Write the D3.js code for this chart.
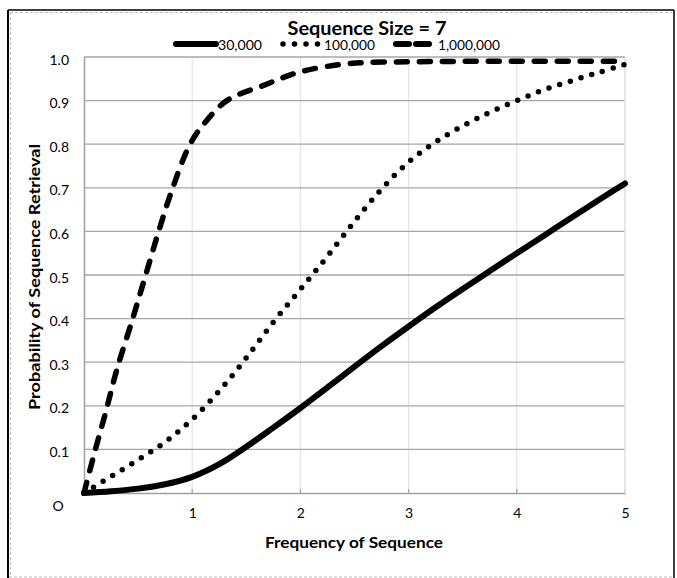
<!DOCTYPE html>
<html>
<head>
<meta charset="utf-8">
<script src="https://cdn.jsdelivr.net/npm/d3@7"></script>
<style>
  html, body { margin: 0; padding: 0; background: #fff; }
  svg { display: block; font-family: Lato, "Open Sans", sans-serif; }
</style>
</head>
<body>
<svg id="chart" width="677" height="578"></svg>
<script>
// Frequency of sequence (x) and probability of retrieval (y) for each corpus size
const freq30k = [0, 0.25, 0.5, 0.75, 1, 1.25, 1.5, 1.75, 2, 2.25, 2.5, 2.75, 3, 3.25, 3.5, 3.75, 4, 4.25, 4.5, 4.75, 5];
const prob30k = [0, 0.004, 0.01, 0.02, 0.037, 0.066, 0.106, 0.15, 0.195, 0.242, 0.29, 0.337, 0.382, 0.426, 0.468, 0.509, 0.55, 0.59, 0.631, 0.671, 0.71];

const freq100k = [0, 0.25, 0.5, 0.75, 1, 1.25, 1.5, 1.75, 2, 2.25, 2.5, 2.75, 3, 3.25, 3.5, 3.75, 4, 4.25, 4.5, 4.75, 5];
const prob100k = [0, 0.038, 0.076, 0.117, 0.169, 0.234, 0.31, 0.392, 0.467, 0.543, 0.623, 0.697, 0.759, 0.805, 0.842, 0.873, 0.9, 0.925, 0.945, 0.964, 0.983];

const freq1m = [0, 0.1, 0.2, 0.3, 0.45, 0.57, 0.69, 0.82, 0.98, 1.11, 1.32, 1.66, 2, 2.46, 3, 3.5, 4, 4.5, 5];
const prob1m = [0, 0.095, 0.185, 0.28, 0.4, 0.5, 0.6, 0.7, 0.8, 0.847, 0.9, 0.935, 0.966, 0.985, 0.989, 0.99, 0.99, 0.99, 0.99];

const seriesNames = ["30,000", "100,000", "1,000,000"];
const xTickValues = [1, 2, 3, 4, 5];
const yTickValues = [0.1, 0.2, 0.3, 0.4, 0.5, 0.6, 0.7, 0.8, 0.9, 1.0];

const titleText = "Sequence Size = 7";
const xTitle = "Frequency of Sequence";
const yTitle = "Probability of Sequence Retrieval";

const svg = d3.select("#chart");
const plot = { left: 84, right: 625, top: 57, bottom: 493 };
const tickFont = "Lato, 'Open Sans', sans-serif";
const tickSize = 14;

const x = d3.scaleLinear().domain([0, 5]).range([plot.left, plot.right]);
const y = d3.scaleLinear().domain([0, 1]).range([plot.bottom, plot.top]);

// outer frame
const frame = svg.append("g");
frame.append("line").attr("x1", 8).attr("x2", 674).attr("y1", 10).attr("y2", 10)
  .attr("stroke", "#000").attr("stroke-width", 1.5);
frame.append("line").attr("x1", 8).attr("x2", 8).attr("y1", 10).attr("y2", 578)
  .attr("stroke", "#000").attr("stroke-width", 2);
frame.append("line").attr("x1", 674).attr("x2", 674).attr("y1", 10).attr("y2", 578)
  .attr("stroke", "#000").attr("stroke-width", 1.5);
frame.append("line").attr("x1", 10).attr("x2", 672).attr("y1", 12.5).attr("y2", 12.5)
  .attr("stroke", "#bbb").attr("stroke-width", 1).attr("stroke-dasharray", "3 2");
frame.append("line").attr("x1", 10.5).attr("x2", 10.5).attr("y1", 12).attr("y2", 576)
  .attr("stroke", "#bbb").attr("stroke-width", 1).attr("stroke-dasharray", "3 2");
frame.append("line").attr("x1", 9).attr("x2", 673).attr("y1", 577).attr("y2", 577)
  .attr("stroke", "#bbb").attr("stroke-width", 1).attr("stroke-dasharray", "3 2");

// vertical gridlines
svg.append("g").selectAll("line").data(xTickValues).join("line")
  .attr("x1", d => x(d)).attr("x2", d => x(d))
  .attr("y1", plot.top).attr("y2", plot.bottom)
  .attr("stroke", "#e4e4e4").attr("stroke-width", 1.2);

// horizontal gridlines
svg.append("g").selectAll("line").data(yTickValues).join("line")
  .attr("x1", plot.left).attr("x2", plot.right)
  .attr("y1", d => y(d)).attr("y2", d => y(d))
  .attr("stroke", "#a6a6a6").attr("stroke-width", 1.3);

// axes
const xAxis = d3.axisBottom(x).tickValues(xTickValues).tickSize(0).tickPadding(15)
  .tickFormat(d3.format("d"));
const gx = svg.append("g").attr("transform", `translate(0,${plot.bottom})`).call(xAxis);
gx.attr("font-size", tickSize).attr("font-family", tickFont);
gx.select(".domain").attr("stroke", "#a0a0a0").attr("stroke-width", 1.5);
gx.selectAll("text").attr("fill", "#000");
// small inner tick marks
svg.append("g").selectAll("line").data(xTickValues).join("line")
  .attr("x1", d => x(d)).attr("x2", d => x(d))
  .attr("y1", plot.bottom - 4).attr("y2", plot.bottom)
  .attr("stroke", "#a0a0a0").attr("stroke-width", 1.2);

const yAxis = d3.axisLeft(y).tickValues(yTickValues).tickSize(0).tickPadding(15)
  .tickFormat(d3.format(".1f"));
const gy = svg.append("g").attr("transform", `translate(${plot.left},0)`).call(yAxis);
gy.attr("font-size", tickSize).attr("font-family", tickFont);
gy.select(".domain").attr("stroke", "#a0a0a0").attr("stroke-width", 1.5);
gy.selectAll("text").attr("fill", "#000").attr("dy", "0.5em");

// right edge of plot
svg.append("line").attr("x1", plot.right).attr("x2", plot.right)
  .attr("y1", plot.top).attr("y2", plot.bottom)
  .attr("stroke", "#e4e4e4").attr("stroke-width", 1.5);

// origin label
svg.append("text").attr("x", 58).attr("y", 511).attr("text-anchor", "middle")
  .attr("font-size", tickSize).attr("fill", "#000").attr("font-family", tickFont).text("O");

// series
const line = d3.line().x(d => x(d[0])).y(d => y(d[1])).curve(d3.curveCatmullRom.alpha(0.5));
const series = [
  { name: seriesNames[0], pts: d3.zip(freq30k, prob30k), width: 6, dash: null },
  { name: seriesNames[1], pts: d3.zip(freq100k, prob100k), width: 5.5, dash: "0 11.2" },
  { name: seriesNames[2], pts: d3.zip(freq1m, prob1m), width: 5.5, dash: "11 12" }
];
svg.append("g").selectAll("path").data(series).join("path")
  .attr("d", d => line(d.pts))
  .attr("fill", "none")
  .attr("stroke", "#000")
  .attr("stroke-width", d => d.width)
  .attr("stroke-linecap", "round")
  .attr("stroke-linejoin", "round")
  .attr("stroke-dasharray", d => d.dash);

// title
svg.append("text").attr("x", 367).attr("y", 35).attr("text-anchor", "middle")
  .attr("font-size", 18).attr("font-weight", "bold").attr("fill", "#000")
  .attr("textLength", 159).attr("lengthAdjust", "spacingAndGlyphs")
  .text(titleText);

// legend
const legendY = 44;
const legendItems = [
  { x1: 176, x2: 216, tx: 218, tw: 44, s: series[0], lw: 6, dash: null },
  { x1: 283, x2: 319, tx: 324, tw: 51, s: series[1], lw: 5.5, dash: "0 11.5" },
  { x1: 396, x2: 434, tx: 438, tw: 62, s: series[2], lw: 6, dash: "13 7" }
];
const lg = svg.append("g");
legendItems.forEach(it => {
  lg.append("line").attr("x1", it.x1).attr("x2", it.x2).attr("y1", legendY).attr("y2", legendY)
    .attr("stroke", "#000").attr("stroke-width", it.lw)
    .attr("stroke-linecap", "round").attr("stroke-dasharray", it.dash);
  lg.append("text").attr("x", it.tx).attr("y", 50)
    .attr("font-size", 12.5).attr("fill", "#000")
    .attr("textLength", it.tw).attr("lengthAdjust", "spacingAndGlyphs")
    .text(it.s.name);
});

// axis titles
svg.append("text").attr("x", 354).attr("y", 548).attr("text-anchor", "middle")
  .attr("font-size", 15).attr("font-weight", "bold").attr("fill", "#000")
  .attr("textLength", 178).attr("lengthAdjust", "spacingAndGlyphs")
  .text(xTitle);
svg.append("text").attr("transform", "translate(40,277) rotate(-90)")
  .attr("text-anchor", "middle")
  .attr("font-size", 15).attr("font-weight", "bold").attr("fill", "#000")
  .attr("textLength", 266).attr("lengthAdjust", "spacingAndGlyphs")
  .text(yTitle);
</script>
</body>
</html>
